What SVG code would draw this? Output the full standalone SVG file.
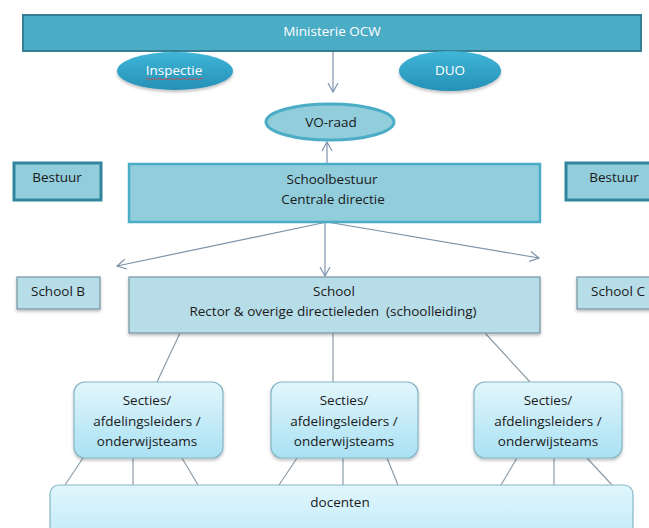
<svg xmlns="http://www.w3.org/2000/svg" width="649" height="528" viewBox="0 0 649 528">
<defs>
<style>
text{font-family:"Open Sans","Liberation Sans",sans-serif;font-size:13.5px;fill:#1a1a1a;text-anchor:middle}
.w{fill:#ffffff}
.conn line{stroke:#7b93ab;stroke-width:1.2;fill:none}
.conn .g{stroke:#8c9ca8}
.mid{fill:#92cddc;stroke:#4bacc6;stroke-width:2.5}
.best{fill:#92cddc;stroke:#31859c;stroke-width:3}
.light{fill:#b7dde8;stroke:#7c9aa5;stroke-width:1.3}
.sec{fill:url(#gs);stroke:#85b5c5;stroke-width:1.2}
</style>
<linearGradient id="ge" x1="0" y1="0" x2="0" y2="1">
<stop offset="0" stop-color="#3fb6d8"/>
<stop offset="1" stop-color="#2690b6"/>
</linearGradient>
<linearGradient id="gs" x1="0" y1="0" x2="0" y2="1">
<stop offset="0" stop-color="#e2f6fc"/>
<stop offset="1" stop-color="#a9e1f3"/>
</linearGradient>
<linearGradient id="gd" x1="0" y1="0" x2="0" y2="1">
<stop offset="0" stop-color="#e0f6fc"/>
<stop offset="1" stop-color="#bfeaf8"/>
</linearGradient>
<filter id="sh" x="-10%" y="-10%" width="120%" height="140%">
<feDropShadow dx="0" dy="2" stdDeviation="1.5" flood-color="#000" flood-opacity="0.25"/>
</filter>
<marker id="ah" markerWidth="12" markerHeight="12" refX="10" refY="6" orient="auto" markerUnits="userSpaceOnUse">
<path d="M1,1 L10,6 L1,11" fill="none" stroke="#7b93ab" stroke-width="1.2"/>
</marker>
</defs>

<g id="connectors" class="conn">
<line x1="333" y1="51" x2="333" y2="92" marker-end="url(#ah)"/>
<line x1="327" y1="163" x2="327" y2="142" marker-end="url(#ah)"/>
<line x1="327" y1="222" x2="117" y2="266" marker-end="url(#ah)"/>
<line x1="327" y1="222" x2="539" y2="258" marker-end="url(#ah)"/>
<line x1="325" y1="222" x2="325" y2="276" marker-end="url(#ah)"/>
<line class="g" x1="180" y1="333" x2="157" y2="382"/>
<line class="g" x1="333" y1="333" x2="333" y2="382"/>
<line class="g" x1="485" y1="333" x2="530" y2="382"/>
<line class="g" x1="83" y1="458" x2="65" y2="485"/>
<line class="g" x1="133" y1="458" x2="133" y2="485"/>
<line class="g" x1="182" y1="458" x2="198" y2="485"/>
<line class="g" x1="297" y1="458" x2="279" y2="485"/>
<line class="g" x1="343" y1="458" x2="343" y2="485"/>
<line class="g" x1="387" y1="458" x2="398" y2="485"/>
<line class="g" x1="517" y1="458" x2="501" y2="485"/>
<line class="g" x1="554" y1="458" x2="554" y2="485"/>
<line class="g" x1="587" y1="458" x2="612" y2="485"/>
</g>

<g id="ministerie">
<rect x="23" y="15" width="618" height="36" fill="#4bacc6" stroke="#367f93" stroke-width="2"/>
<text class="w" x="332" y="36" font-size="13">Ministerie OCW</text>
</g>

<g id="inspectie">
<ellipse cx="175" cy="71" rx="58" ry="19" fill="url(#ge)" filter="url(#sh)"/>
<text class="w" x="174" y="75">Inspectie</text>
<path d="M146,79 q1.5,-1.6 3,0 t3,0 t3,0 t3,0 t3,0 t3,0 t3,0 t3,0 t3,0 t3,0 t3,0 t3,0 t3,0 t3,0 t3,0 t3,0 t3,0 t3,0 t3,0" fill="none" stroke="#c0504d" stroke-width="1"/>
</g>

<g id="duo">
<ellipse cx="450" cy="71" rx="51" ry="20" fill="url(#ge)" filter="url(#sh)"/>
<text class="w" x="450" y="75">DUO</text>
</g>

<g id="vo-raad">
<ellipse cx="330" cy="122" rx="64" ry="18" fill="#92cddc" stroke="#4bacc6" stroke-width="3"/>
<text x="331" y="127">VO-raad</text>
</g>

<g id="bestuur-left">
<rect x="14" y="163" width="87" height="37" class="best"/>
<text x="57" y="182">Bestuur</text>
</g>

<g id="schoolbestuur">
<rect x="129" y="164" width="411" height="58" class="mid"/>
<text x="332" y="184">Schoolbestuur</text>
<text x="333" y="204">Centrale directie</text>
</g>

<g id="bestuur-right">
<rect x="566" y="163" width="100" height="37" class="best"/>
<text x="614" y="182">Bestuur</text>
</g>

<g id="school-b">
<rect x="17" y="277" width="83" height="32" class="light" filter="url(#sh)"/>
<text x="58" y="296">School B</text>
</g>

<g id="school">
<rect x="129" y="277" width="411" height="56" class="light" filter="url(#sh)"/>
<text x="334" y="296">School</text>
<text x="333" y="316">Rector &amp; overige directieleden&#160; (schoolleiding)</text>
</g>

<g id="school-c">
<rect x="577" y="277" width="90" height="32" class="light" filter="url(#sh)"/>
<text x="618" y="296">School C</text>
</g>

<g id="secties-1">
<rect x="74" y="382" width="149" height="76" rx="11" class="sec" filter="url(#sh)"/>
<text x="147" y="405">Secties/</text>
<text x="147" y="426">afdelingsleiders /</text>
<text x="147" y="446">onderwijsteams</text>
</g>

<g id="secties-2">
<rect x="271" y="382" width="147" height="76" rx="11" class="sec" filter="url(#sh)"/>
<text x="344" y="405">Secties/</text>
<text x="344" y="426">afdelingsleiders /</text>
<text x="344" y="446">onderwijsteams</text>
</g>

<g id="secties-3">
<rect x="474" y="382" width="148" height="76" rx="11" class="sec" filter="url(#sh)"/>
<text x="548" y="405">Secties/</text>
<text x="548" y="426">afdelingsleiders /</text>
<text x="548" y="446">onderwijsteams</text>
</g>

<g id="docenten">
<rect x="50" y="485" width="583" height="60" rx="9" fill="url(#gd)" stroke="#85b5c5" stroke-width="1.2"/>
<text x="340" y="507">docenten</text>
</g>
</svg>
